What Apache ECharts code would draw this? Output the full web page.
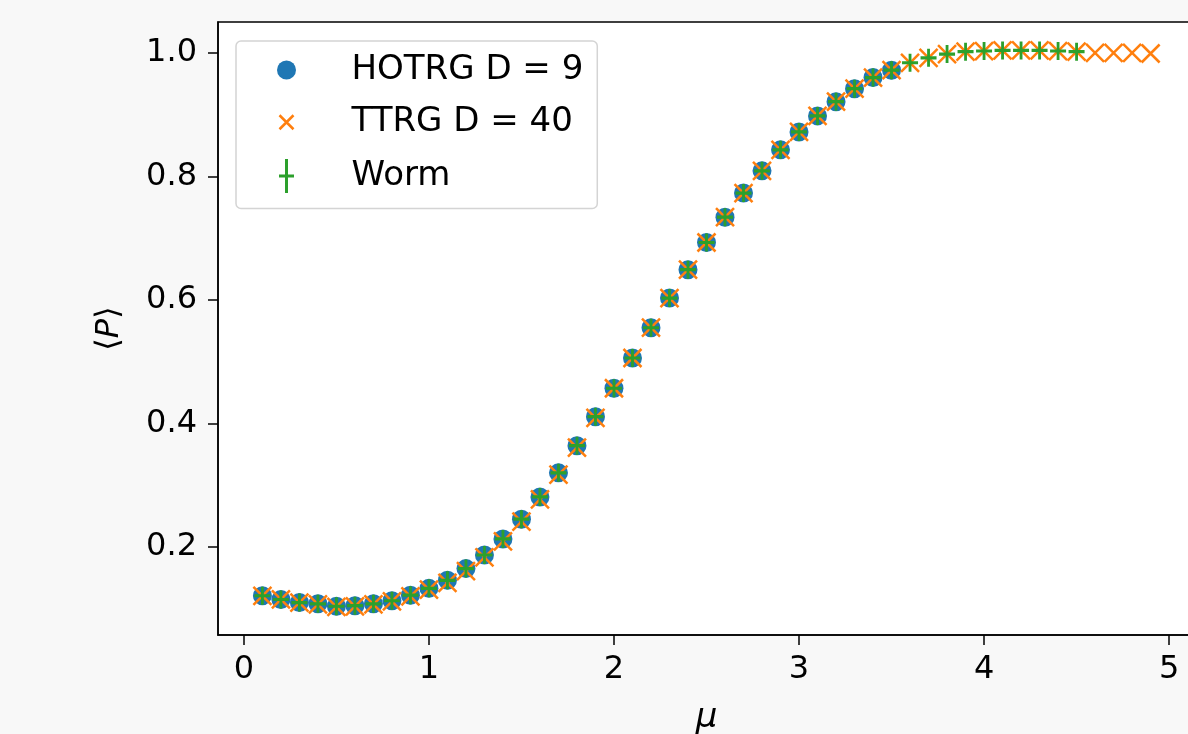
<!DOCTYPE html>
<html>
<head>
<meta charset="utf-8">
<script src="https://cdn.jsdelivr.net/npm/echarts@6/dist/echarts.min.js"></script>
<style>
  html, body { margin: 0; padding: 0; background: #f8f8f8; }
  #main { width: 1188px; height: 734px; }
</style>
</head>
<body>
<div id="main"></div>
<script>
// mu values and <P> per method
var muHotrg = [0.1, 0.2, 0.3, 0.4, 0.5, 0.6, 0.7, 0.8, 0.9, 1.0, 1.1, 1.2, 1.3, 1.4, 1.5, 1.6, 1.7, 1.8, 1.9, 2.0,
  2.1, 2.2, 2.3, 2.4, 2.5, 2.6, 2.7, 2.8, 2.9, 3.0, 3.1, 3.2, 3.3, 3.4, 3.5];
var pHotrg = [0.121, 0.115, 0.110, 0.108, 0.104, 0.105, 0.108, 0.113, 0.122, 0.133, 0.146, 0.165, 0.187, 0.213, 0.245,
  0.281, 0.320, 0.364, 0.411, 0.457, 0.506, 0.555, 0.603, 0.649, 0.693, 0.734, 0.773, 0.809, 0.843, 0.872,
  0.898, 0.921, 0.942, 0.960, 0.972];

var muTtrg = [0.1, 0.2, 0.3, 0.4, 0.5, 0.6, 0.7, 0.8, 0.9, 1.0, 1.1, 1.2, 1.3, 1.4, 1.5, 1.6, 1.7, 1.8, 1.9, 2.0,
  2.1, 2.2, 2.3, 2.4, 2.5, 2.6, 2.7, 2.8, 2.9, 3.0, 3.1, 3.2, 3.3, 3.4, 3.5, 3.6, 3.7, 3.8, 3.9, 4.0,
  4.1, 4.2, 4.3, 4.4, 4.5, 4.6, 4.7, 4.8, 4.9];
var pTtrg = [0.121, 0.115, 0.110, 0.107, 0.103, 0.104, 0.107, 0.112, 0.120, 0.131, 0.142, 0.161, 0.183, 0.209, 0.241,
  0.277, 0.317, 0.361, 0.409, 0.457, 0.506, 0.555, 0.603, 0.649, 0.693, 0.734, 0.773, 0.809, 0.843, 0.872,
  0.898, 0.921, 0.942, 0.960, 0.972, 0.984, 0.992, 0.998, 1.002, 1.003, 1.004, 1.004, 1.004, 1.003, 1.002,
  1.000, 1.000, 1.000, 0.999];

var muWorm = [0.1, 0.2, 0.3, 0.4, 0.5, 0.6, 0.7, 0.8, 0.9, 1.0, 1.1, 1.2, 1.3, 1.4, 1.5, 1.6, 1.7, 1.8, 1.9, 2.0,
  2.1, 2.2, 2.3, 2.4, 2.5, 2.6, 2.7, 2.8, 2.9, 3.0, 3.1, 3.2, 3.3, 3.4, 3.5, 3.6, 3.7, 3.8, 3.9, 4.0,
  4.1, 4.2, 4.3, 4.4, 4.5];
var pWorm = [0.121, 0.115, 0.110, 0.108, 0.104, 0.105, 0.108, 0.113, 0.122, 0.133, 0.146, 0.165, 0.187, 0.213, 0.245,
  0.281, 0.320, 0.364, 0.411, 0.457, 0.506, 0.555, 0.603, 0.649, 0.693, 0.734, 0.773, 0.809, 0.843, 0.872,
  0.898, 0.921, 0.942, 0.960, 0.972, 0.984, 0.992, 0.998, 1.002, 1.003, 1.004, 1.004, 1.004, 1.003, 1.002];

var xTicks = [0, 1, 2, 3, 4, 5];
var yTicks = [0.2, 0.4, 0.6, 0.8, 1.0];

function pairs(xs, ys) {
  return xs.map(function (x, i) { return [x, ys[i]]; });
}

var FONT = 'DejaVu Sans';
var CROSS = 'path://M0,0L10,10M10,0L0,10';
var PLUS = 'path://M8,0L8,18M0,9L16,9';

var myChart = echarts.init(document.getElementById('main'));
option = {
  backgroundColor: '#f8f8f8',
  animation: false,
  textStyle: { fontFamily: FONT },
  grid: {
    left: 218, top: 22, width: 977, bottom: 99,
    outerBoundsMode: 'none', containLabel: false,
    show: true, backgroundColor: '#ffffff', borderColor: '#000', borderWidth: 1.5
  },
  legend: {
    orient: 'vertical',
    left: 236, top: 41,
    padding: [12, 14, 14, 32],
    itemWidth: 34, itemHeight: 34, itemGap: 17,
    backgroundColor: '#ffffff',
    borderColor: '#d4d4d4', borderWidth: 1.5, borderRadius: 5,
    textStyle: { fontFamily: FONT, fontSize: 34, lineHeight: 34, color: '#000', padding: [0, 0, 0, 43] },
    data: [
      { name: 'HOTRG D = 9', icon: 'path://M0,0M34,34M7.5,17a9.5,9.5 0 1,0 19,0a9.5,9.5 0 1,0 -19,0z',
        itemStyle: { color: '#1f77b4', borderWidth: 0 } },
      { name: 'TTRG D = 40', icon: 'path://M0,0M34,34M10,10L24,24M24,10L10,24',
        itemStyle: { color: 'transparent', borderColor: '#ff7f0e', borderWidth: 2.5 } },
      { name: 'Worm', icon: 'path://M0,0M34,34M17,0L17,34M9.5,17L24.5,17',
        itemStyle: { color: 'transparent', borderColor: '#2ca02c', borderWidth: 3 } }
    ]
  },
  xAxis: {
    type: 'value', min: -0.14, max: 5.14,
    name: 'μ', nameLocation: 'middle', nameGap: 66,
    nameTextStyle: { fontFamily: FONT, fontSize: 34, fontStyle: 'italic', color: '#000' },
    splitLine: { show: false },
    axisLine: { onZero: false, lineStyle: { color: '#000', width: 1.5 } },
    axisTick: { show: true, length: 10, inside: false, customValues: xTicks, lineStyle: { color: '#000', width: 1.5 } },
    axisLabel: { customValues: xTicks, margin: 19, fontFamily: FONT, fontSize: 32, color: '#000' }
  },
  yAxis: {
    type: 'value', min: 0.0575, max: 1.05,
    name: '{n|⟨}{p|P}{n|⟩}', nameLocation: 'middle', nameGap: 92, nameRotate: 90,
    nameTextStyle: {
      color: '#000',
      rich: {
        n: { fontFamily: FONT, fontSize: 32, color: '#000' },
        p: { fontFamily: FONT, fontSize: 32, fontStyle: 'italic', color: '#000' }
      }
    },
    splitLine: { show: false },
    axisLine: { show: true, onZero: false, lineStyle: { color: '#000', width: 1.5 } },
    axisTick: { show: true, length: 10, inside: false, customValues: yTicks, lineStyle: { color: '#000', width: 1.5 } },
    axisLabel: {
      customValues: yTicks, margin: 21, fontFamily: FONT, fontSize: 32, color: '#000',
      formatter: function (v) { return v.toFixed(1); }
    }
  },
  series: [
    {
      name: 'HOTRG D = 9', type: 'scatter', symbol: 'circle', symbolSize: 19,
      itemStyle: { color: '#1f77b4', opacity: 1 },
      data: pairs(muHotrg, pHotrg), z: 2
    },
    {
      name: 'TTRG D = 40', type: 'scatter', symbol: CROSS, symbolSize: 18,
      itemStyle: { color: 'transparent', borderColor: '#ff7f0e', borderWidth: 2.5, opacity: 1 },
      data: pairs(muTtrg, pTtrg), z: 3
    },
    {
      name: 'Worm', type: 'scatter', symbol: PLUS, symbolSize: [16, 18],
      itemStyle: { color: 'transparent', borderColor: '#2ca02c', borderWidth: 3, opacity: 1 },
      data: pairs(muWorm, pWorm), z: 4
    }
  ]
};

// 使用刚指定的配置项和数据显示图表。
myChart.setOption(option);
</script>
</body>
</html>
